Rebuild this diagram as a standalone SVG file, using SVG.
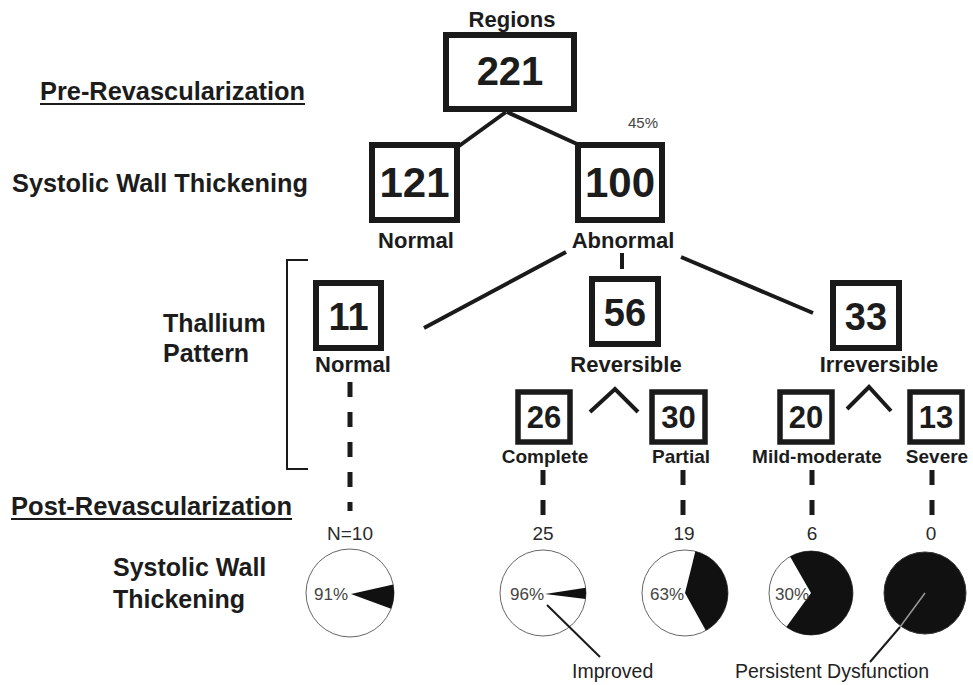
<svg xmlns="http://www.w3.org/2000/svg" width="973" height="685" viewBox="0 0 973 685">
<style>
  text { font-family: "Liberation Sans", Arial, sans-serif; fill: #1c1c1c; }
  .hdr { font-size: 25px; font-weight: bold; }
  .big { font-weight: bold; text-anchor: middle; }
  .lbl { font-size: 22px; font-weight: bold; text-anchor: middle; }
  .lbl2 { font-size: 19px; font-weight: bold; text-anchor: middle; }
  .num { font-size: 19px; text-anchor: middle; fill: #2a2a2a; }
  .pct { font-size: 17px; text-anchor: end; fill: #444; }
  .note { font-size: 19.5px; fill: #222; }
  .box { fill: #fff; stroke: #1a1a1a; stroke-width: 6; }
  .sbox { fill: #fff; stroke: #1a1a1a; stroke-width: 5.5; }
  .conn { stroke: #1a1a1a; stroke-width: 4; fill: none; }
  .dash { stroke: #1a1a1a; stroke-width: 5; stroke-dasharray: 15 15; fill: none; }
  .pie { fill: #fff; stroke: #666; stroke-width: 1; }
  .blk { fill: #111; }
</style>

<g id="labels-left">
  <text class="hdr" x="40" y="100" textLength="265" lengthAdjust="spacingAndGlyphs">Pre-Revascularization</text>
  <line x1="40" y1="104" x2="305" y2="104" stroke="#1c1c1c" stroke-width="2"/>
  <text class="hdr" x="12" y="192" textLength="296" lengthAdjust="spacingAndGlyphs">Systolic Wall Thickening</text>
  <text class="hdr" x="163" y="332">Thallium</text>
  <text class="hdr" x="163" y="362">Pattern</text>
  <path d="M308 260 H287 V469 H308" fill="none" stroke="#1a1a1a" stroke-width="2"/>
  <text class="hdr" x="11" y="515" textLength="281" lengthAdjust="spacingAndGlyphs">Post-Revascularization</text>
  <line x1="11" y1="519" x2="292" y2="519" stroke="#1c1c1c" stroke-width="2"/>
  <text class="hdr" x="113" y="576">Systolic Wall</text>
  <text class="hdr" x="113" y="608">Thickening</text>
</g>

<g id="connectors">
  <line class="conn" x1="506" y1="112" x2="459" y2="146"/>
  <line class="conn" x1="507" y1="112" x2="577" y2="144"/>
  <line class="conn" x1="566" y1="252" x2="424" y2="328"/>
  <line class="conn" x1="622" y1="253" x2="622" y2="269"/>
  <line class="conn" x1="681" y1="257" x2="813" y2="313"/>
  <polyline class="conn" points="590,412 615,389 638,412"/>
  <polyline class="conn" points="847,409 869,387 891,411"/>
  <line class="dash" x1="350" y1="382" x2="350" y2="511"/>
  <line class="dash" x1="543" y1="470" x2="543" y2="515"/>
  <line class="dash" x1="683" y1="470" x2="683" y2="518"/>
  <line class="dash" x1="812" y1="470" x2="812" y2="518"/>
  <line class="dash" x1="932" y1="470" x2="932" y2="518"/>
</g>

<g id="n221">
  <text class="lbl" x="512" y="27">Regions</text>
  <rect class="box" x="446" y="35" width="128" height="74"/>
  <text class="big" x="510" y="85" font-size="40">221</text>
</g>
<g id="n121">
  <rect class="box" x="372" y="145" width="85" height="75"/>
  <text class="big" x="414.5" y="197" font-size="42">121</text>
  <text class="lbl" x="416" y="248">Normal</text>
</g>
<g id="n100">
  <text x="628" y="128" font-size="15" style="fill:#444">45%</text>
  <rect class="box" x="578" y="145" width="84" height="75"/>
  <text class="big" x="620" y="197" font-size="42">100</text>
  <text class="lbl" x="623" y="248">Abnormal</text>
</g>
<g id="n11">
  <rect class="box" x="316" y="283" width="65" height="65"/>
  <text class="big" x="348.5" y="330" font-size="38">11</text>
  <text class="lbl" x="353" y="372">Normal</text>
</g>
<g id="n56">
  <rect class="box" x="592" y="279" width="66" height="65"/>
  <text class="big" x="625" y="326" font-size="38">56</text>
  <text class="lbl" x="626" y="372">Reversible</text>
</g>
<g id="n33">
  <rect class="box" x="833" y="283" width="66" height="65"/>
  <text class="big" x="866" y="330" font-size="38">33</text>
  <text class="lbl" x="879" y="372">Irreversible</text>
</g>
<g id="n26">
  <rect class="sbox" x="518" y="392" width="52" height="50"/>
  <text class="big" x="544" y="428" font-size="31">26</text>
  <text class="lbl2" x="545" y="463">Complete</text>
</g>
<g id="n30">
  <rect class="sbox" x="652" y="392" width="53" height="50"/>
  <text class="big" x="678.5" y="428" font-size="31">30</text>
  <text class="lbl2" x="681" y="463">Partial</text>
</g>
<g id="n20">
  <rect class="sbox" x="780" y="392" width="52" height="50"/>
  <text class="big" x="806" y="428" font-size="31">20</text>
  <text class="lbl2" x="817" y="463">Mild-moderate</text>
</g>
<g id="n13">
  <rect class="sbox" x="910" y="392" width="52" height="50"/>
  <text class="big" x="936" y="428" font-size="31">13</text>
  <text class="lbl2" x="937" y="463">Severe</text>
</g>

<g id="pie1">
  <text class="num" x="350" y="540">N=10</text>
  <circle class="pie" cx="350" cy="593" r="44"/>
  <path class="blk" d="M351 594 L393.2 584.6 A44 44 0 0 1 391.1 608.8 Z"/>
  <text class="pct" x="348" y="600">91%</text>
</g>
<g id="pie2">
  <text class="num" x="543" y="540">25</text>
  <circle class="pie" cx="543" cy="593" r="43"/>
  <path class="blk" d="M545 594 L585.7 587.8 A43 43 0 0 1 585.6 599 Z"/>
  <text class="pct" x="544" y="600">96%</text>
  <line x1="547" y1="605" x2="600" y2="657" stroke="#1a1a1a" stroke-width="2"/>
  <text class="note" x="572" y="678">Improved</text>
</g>
<g id="pie3">
  <text class="num" x="684" y="540">19</text>
  <circle class="pie" cx="685" cy="593" r="43"/>
  <path class="blk" d="M685 593 L695.4 551.3 A43 43 0 0 1 705.8 630.6 Z"/>
  <text class="pct" x="684" y="600">63%</text>
</g>
<g id="pie4">
  <text class="num" x="812" y="540">6</text>
  <circle class="pie" cx="811" cy="593" r="42"/>
  <path class="blk" d="M811 593 L790 556.6 A42 42 0 1 1 786.3 627 Z"/>
  <text class="pct" x="809" y="600">30%</text>
</g>
<g id="pie5">
  <text class="num" x="931" y="540">0</text>
  <circle cx="925" cy="593" r="41" fill="#111" stroke="#333" stroke-width="1"/>
  <line x1="925" y1="593" x2="900" y2="627" stroke="#999" stroke-width="1.5"/>
  <line x1="900" y1="627" x2="870" y2="662" stroke="#1a1a1a" stroke-width="2"/>
  <text class="note" x="735" y="678">Persistent Dysfunction</text>
</g>
</svg>
